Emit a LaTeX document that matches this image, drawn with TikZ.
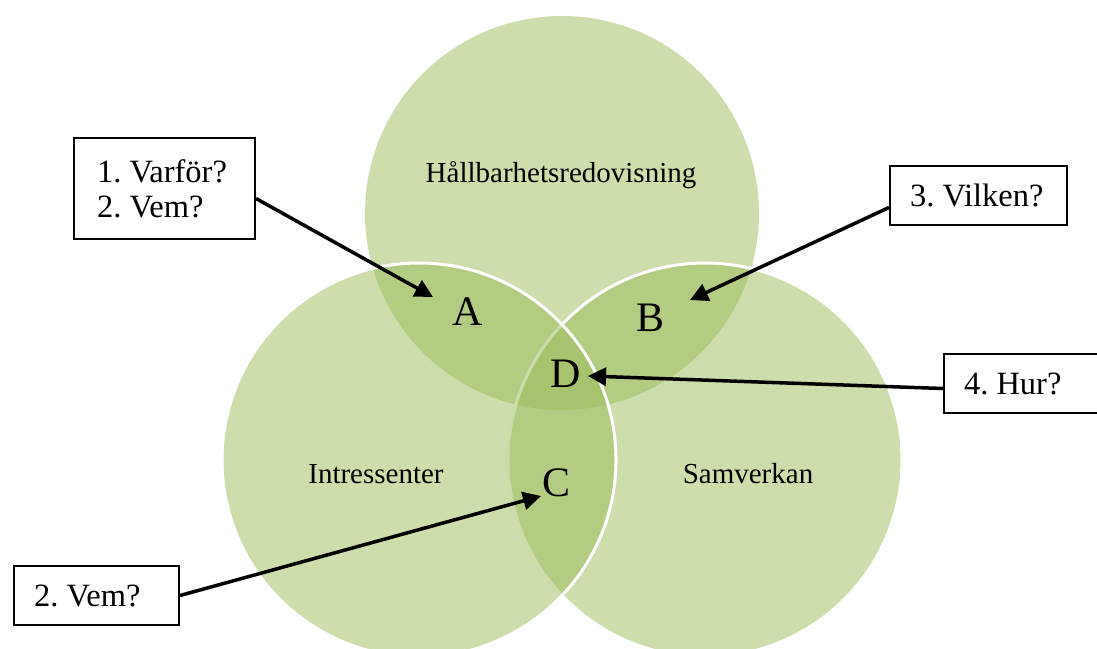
\documentclass[tikz,border=0pt]{standalone}
\usepackage{fontspec}
\setmainfont{Liberation Serif}
\usetikzlibrary{arrows.meta, positioning, calc}

\definecolor{venngreen}{RGB}{155,187,89}
\frenchspacing

\begin{document}
\begin{tikzpicture}[
      x=1pt, y=-1pt,
      set/.style={fill=venngreen, fill opacity=0.5},
      setline/.style={set, draw=white, draw opacity=1, line width=3pt},
      setname/.style={anchor=base, font=\fontsize{29}{33}\selectfont},
      zone/.style={font=\fontsize{42}{46}\selectfont, inner sep=0pt},
      qbox/.style={rectangle, draw, fill=white, line width=2pt, align=flush left,
                   inner xsep=20pt, font=\fontsize{32.5}{35}\selectfont,
                   minimum height=59pt, anchor=north west},
      arr/.style={line width=3.5pt, -{Triangle[length=18pt, width=18pt]}}
    ]

    \useasboundingbox (0,0) rectangle (1097,648);

    % the three sets
    \fill[set] (562,213) circle [radius=197];
    \filldraw[setline] (705,460) circle [radius=197];
    \filldraw[setline] (419,460) circle [radius=197];

    \node[setname] (hall) at (561,182) {Hållbarhetsredovisning};
    \node[setname] (intr) at (376,483) {Intressenter};
    \node[setname] (samv) at (748,483) {Samverkan};

    \node[zone] (za) at (468,312) {A};
    \node[zone] (zb) at (650,318) {B};
    \node[zone] (zc) at (556,483) {C};
    \node[zone] (zd) at (566,374) {D};

    \coordinate (tipA) at (433,297);
    \coordinate (tipB) at (690,300);
    \coordinate (tipC) at (541,496);
    \coordinate (tipD) at (588,376);

    % question boxes
    \node[qbox, inner xsep=23pt, text width=135pt, minimum height=101pt] (q1)
      at (73,137) {1. Varför?\\2. Vem?};
    \node[qbox, text width=125pt] (q2) at (13,565) {2. Vem?};
    \node[qbox, text width=137pt] (q3) at (889,165) {3. Vilken?};
    \node[qbox, text width=150pt] (q4) at (943,353) {4. Hur?};

    \draw[arr] ([yshift=-10pt]q1.east) -- (tipA);
    \draw[arr] (q2.east) -- (tipC);
    \draw[arr] ([yshift=-12pt]q3.west) -- (tipB);
    \draw[arr] ([yshift=-5pt]q4.west) -- (tipD);

  \end{tikzpicture}
\end{document}
